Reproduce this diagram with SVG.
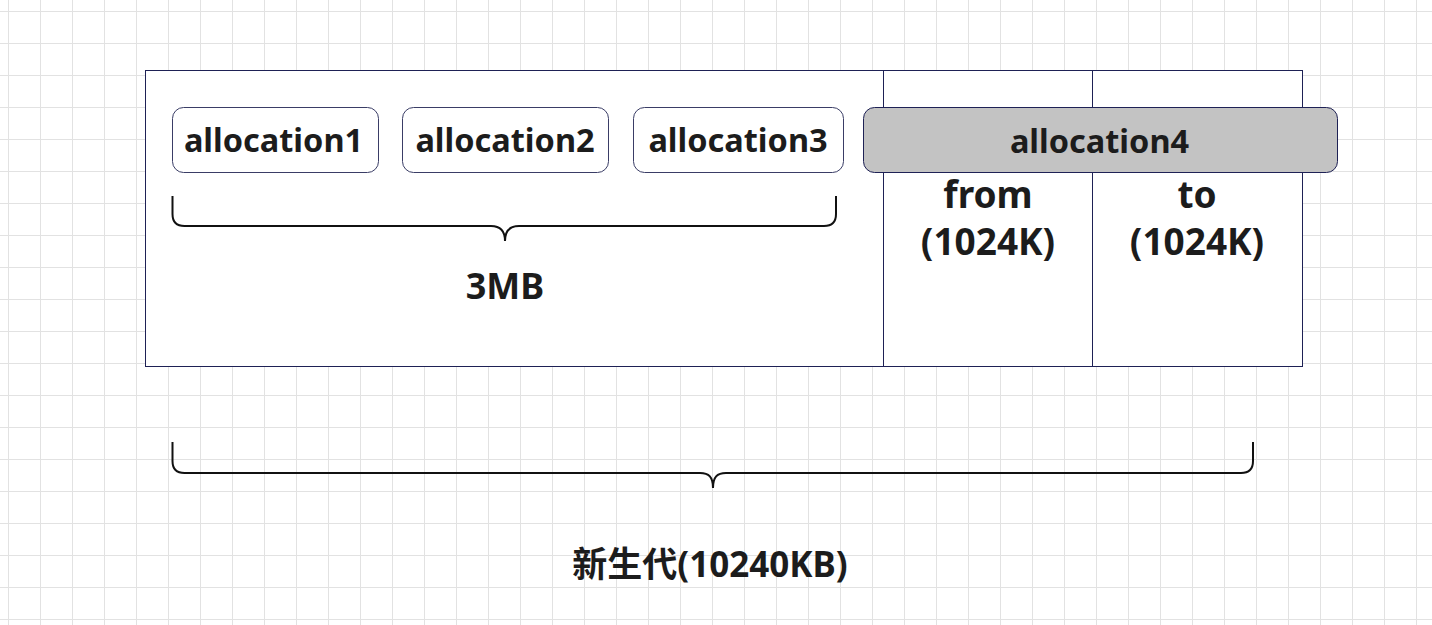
<svg xmlns="http://www.w3.org/2000/svg" width="1432" height="625" viewBox="0 0 1432 625">
<defs>
<pattern id="grid" patternUnits="userSpaceOnUse" x="8" y="11" width="32" height="32">
<path d="M0.5 0 V32 M0 0.5 H32" fill="none" stroke="#e2e2e2" stroke-width="1"/>
</pattern>
<style>
.t{font-family:"Noto Sans","Noto Sans CJK SC",sans-serif;font-weight:bold;fill:#1c1c1c;text-anchor:middle;font-size:32.5px}
.big{font-size:37px}
.mid{font-size:36px}
.young{font-size:35px}
.box{fill:#ffffff;stroke:#3a3d66;stroke-width:1}
.frame{fill:#ffffff;stroke:#1e2155;stroke-width:1}
.brace{fill:none;stroke:#111111;stroke-width:2}
</style>
</defs>
<rect width="1432" height="625" fill="#ffffff"/>
<rect width="1432" height="625" fill="url(#grid)"/>
<g id="frame">
<rect class="frame" x="145.5" y="70.5" width="1157" height="296"/>
<path d="M883.5 70.5 V366.5 M1092.5 70.5 V366.5" stroke="#1e2155" stroke-width="1" fill="none"/>
</g>
<g id="from">
<text class="t big" x="988" y="208">from</text>
<text class="t big" x="988" y="255">(1024K)</text>
</g>
<g id="to">
<text class="t big" x="1197" y="208">to</text>
<text class="t big" x="1197" y="255">(1024K)</text>
</g>
<g id="allocation1">
<rect class="box" x="172.5" y="107.5" width="206" height="65" rx="11"/>
<text class="t" x="273.5" y="152">allocation1</text>
</g>
<g id="allocation2">
<rect class="box" x="402.5" y="107.5" width="206" height="65" rx="11"/>
<text class="t" x="505" y="152">allocation2</text>
</g>
<g id="allocation3">
<rect class="box" x="633.5" y="107.5" width="210" height="65" rx="11"/>
<text class="t" x="738" y="152">allocation3</text>
</g>
<g id="allocation4">
<rect x="863.5" y="107.5" width="474" height="65" rx="11" fill="#c3c3c3" stroke="#1e2155" stroke-width="1"/>
<text class="t" x="1099.5" y="153">allocation4</text>
</g>
<g id="connectors">
<path class="brace" d="M172.5 196 V214 Q172.5 226 184.5 226 H491 C500 226 505 230 505 241 C505 230 510 226 519 226 H824 Q836 226 836 214 V196"/>
<path class="brace" d="M172.5 442 V461 Q172.5 473 184.5 473 H700 C709 473 713 477 713 488 C713 477 717 473 726 473 H1241 Q1253 473 1253 461 V442"/>
</g>
<g id="label-3mb">
<text class="t mid" x="505" y="299">3MB</text>
</g>
<g id="label-young">
<text class="t young" x="710" y="577">新生代(10240KB)</text>
</g>
</svg>
